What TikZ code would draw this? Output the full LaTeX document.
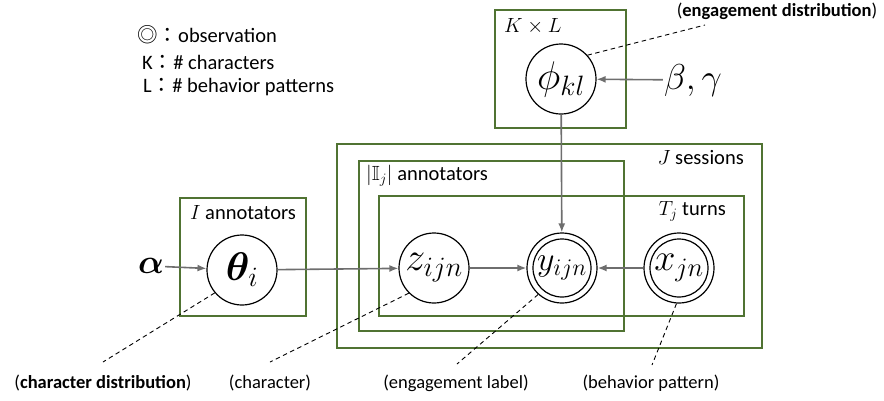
\RequirePackage{fix-cm}
\documentclass[tikz,border=0pt]{standalone}
\usepackage{amsmath,amssymb,bm}
\usepackage{fontspec}
\setmainfont{Carlito}
\newfontfamily\cjkfont{Noto Sans CJK JP}
\usetikzlibrary{arrows.meta}
\definecolor{platecol}{RGB}{80,115,50}
\definecolor{arrcol}{RGB}{110,110,110}
\begin{document}
\begin{tikzpicture}[x=1pt,y=-1pt,
  plate/.style={draw=platecol, line width=1.7pt},
  rv/.style={circle, draw, line width=1.2pt, minimum size=70pt, inner sep=0pt},
  arr/.style={draw=arrcol, line width=1.6pt, -{Latex[length=9pt,width=7pt]}},
  note/.style={line width=0.9pt, dash pattern=on 4.5pt off 3.5pt},
  lab/.style={font=\fontsize{18.5}{22}\selectfont, inner sep=0pt},
  platelab/.style={font=\fontsize{20.5}{24}\selectfont, inner sep=0pt},
  leg/.style={font=\fontsize{20.5}{24}\selectfont, inner sep=0pt, anchor=west},
]
\useasboundingbox (0,0) rectangle (884,400);

% plates
\draw[plate] (495,10) rectangle (626,128);
\draw[plate] (180,198) rectangle (306,316);
\draw[plate] (337,144) rectangle (762,348);
\draw[plate] (359,161) rectangle (624,331);
\draw[plate] (379,196) rectangle (744,316);

% plate labels
\node[platelab, anchor=west] (lkl) at (504,26) {$K\times L$};
\node[platelab] (li) at (243,213) {$I$ annotators};
\node[platelab, anchor=east] (lj) at (744,158) {$J$ sessions};
\node[platelab, anchor=west] (lij) at (366,176) {$\left|\mathbb{I}_j\right|$ annotators};
\node[platelab, anchor=east] (lt) at (726,211) {$T_j$ turns};

% legend
\node[leg] (leg1) at (137,35) {{\cjkfont ◎：}observation};
\node[leg] (leg2) at (142,62) {K{\cjkfont ：}\# characters};
\node[leg] (leg3) at (143,87) {L{\cjkfont ：}\# behavior patterns};

% variables
\node[rv, font=\fontsize{40}{40}\selectfont] (phi) at (561,79) {$\phi_{kl}$};
\node[rv, font=\fontsize{40}{40}\selectfont] (theta) at (242,270) {$\bm{\theta}_i$};
\node[rv, font=\fontsize{40}{40}\selectfont] (z) at (434,268) {$z_{ijn}$};
\node[rv, font=\fontsize{34}{34}\selectfont] (y) at (562,268) {$y_{ijn}$};
\node[rv, font=\fontsize{38}{38}\selectfont] (x) at (679,268) {$x_{jn}$};
\draw[line width=1.2pt] (y.center) circle (29pt);
\draw[line width=1.2pt] (x.center) circle (29pt);

\node[inner sep=1pt, font=\fontsize{34}{34}\selectfont] (alpha) at (151,266) {$\bm{\alpha}$};
\node[inner sep=1pt, font=\fontsize{36}{36}\selectfont] (bg) at (693,80) {$\beta,\gamma$};

% arrows
\draw[arr] (alpha) -- (theta);
\draw[arr] (theta) -- (z);
\draw[arr] (z) -- (y);
\draw[arr] (x) -- (y);
\draw[arr] (phi) -- (y);
\draw[arr] (bg) -- (phi);

% annotation labels
\node[lab] (ldist) at (777,11) {(\textbf{engagement distribution})};
\node[lab] (lcd) at (103,383) {(\textbf{character distribution})};
\node[lab] (lc) at (270,383) {(character)};
\node[lab] (lel) at (456,383) {(engagement label)};
\node[lab] (lbp) at (651,383) {(behavior pattern)};

\coordinate (e1) at (705,25);
\coordinate (e2) at (103,362);
\coordinate (e3) at (270,362);
\coordinate (e4) at (457,364);
\coordinate (e5) at (652,365);
\draw[note] (phi.42) -- (e1);
\draw[note] (theta.220) -- (e2);
\draw[note] (z.225) -- (e3);
\draw[note] (y.228) -- (e4);
\draw[note] (x.266) -- (e5);
\end{tikzpicture}
\end{document}
